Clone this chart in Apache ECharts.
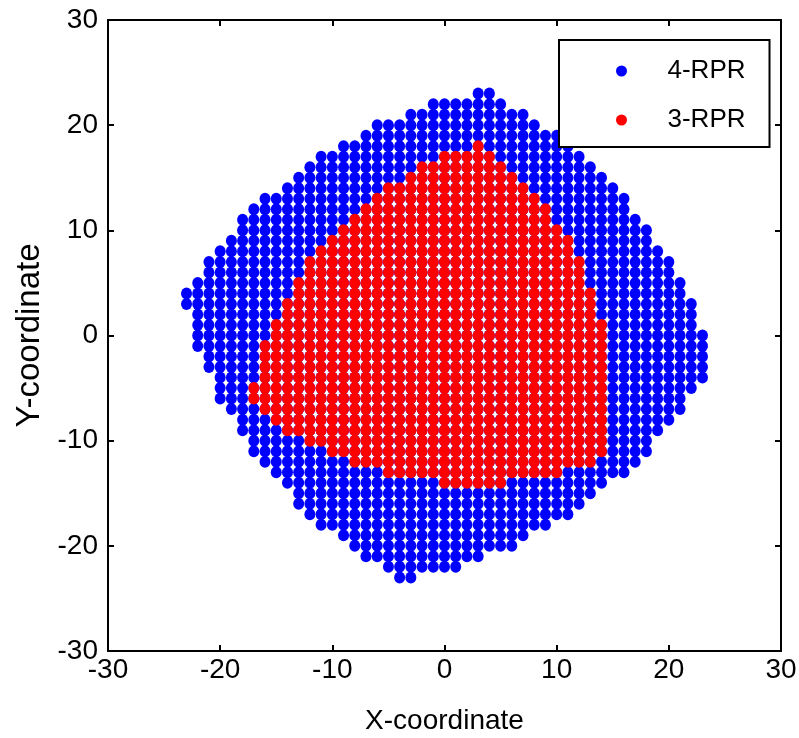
<!DOCTYPE html>
<html lang="en">
<head>
    <meta charset="UTF-8">
    <script src="https://cdn.jsdelivr.net/npm/echarts@6/dist/echarts.min.js"></script>
    <title>Workspace</title>
    <style>
        html, body {
            margin: 0;
            padding: 0;
            width: 100%;
            height: 100%;
            overflow: hidden;
            background: #fff;
        }
        #chart {
            width: 799px;
            height: 738px;
        }
    </style>
</head>
<body>
<div id="chart"></div>
<script>
    // one entry per grid column x = -23 .. 23
    var columnX = [-23, -22, -21, -20, -19, -18, -17, -16, -15, -14, -13, -12, -11, -10, -9, -8, -7, -6, -5, -4, -3, -2, -1,
        0, 1, 2, 3, 4, 5, 6, 7, 8, 9, 10, 11, 12, 13, 14, 15, 16, 17, 18, 19, 20, 21, 22, 23];
    // 4-RPR reachable points: lowest / highest y in each column
    var rpr4Low = [3, -1, -3, -6, -7, -9, -11, -12, -13, -14, -16, -17, -18, -18, -19, -20, -21, -21, -22, -23, -23, -22, -22,
        -22, -22, -21, -21, -20, -20, -20, -19, -18, -18, -17, -17, -16, -15, -14, -13, -13, -12, -11, -9, -8, -7, -5, -4];
    var rpr4High = [4, 5, 7, 8, 9, 11, 12, 13, 13, 14, 15, 16, 17, 17, 18, 18, 19, 20, 20, 20, 21, 21, 22,
        22, 22, 22, 23, 23, 22, 21, 21, 20, 19, 19, 18, 17, 16, 15, 14, 13, 11, 10, 8, 7, 5, 3, 0];
    // 3-RPR reachable points (null = column empty)
    var rpr3Low = [null, null, null, null, null, null, -6, -7, -8, -9, -9, -10, -10, -11, -11, -12, -12, -12, -13, -13, -13, -13, -13,
        -14, -14, -14, -14, -14, -14, -13, -13, -13, -13, -13, -12, -12, -12, -11, null, null, null, null, null, null, null, null, null];
    var rpr3High = [null, null, null, null, null, null, -5, -1, 1, 3, 5, 7, 8, 9, 10, 11, 12, 13, 14, 14, 15, 16, 16,
        17, 17, 17, 18, 17, 16, 15, 14, 13, 12, 10, 9, 7, 4, 1, null, null, null, null, null, null, null, null, null];

    var axisTicks = [-30, -20, -10, 0, 10, 20, 30];

    function columnsToPoints(low, high) {
        var pts = [];
        for (var i = 0; i < columnX.length; i++) {
            if (low[i] === null) continue;
            for (var y = low[i]; y <= high[i]; y++) {
                pts.push([columnX[i], y]);
            }
        }
        return pts;
    }

    var font = '"Liberation Sans", Arial, sans-serif';
    var chart = echarts.init(document.getElementById('chart'), null, {renderer: 'canvas'});

    function valueAxis(pos, showLabel, name) {
        return {
            type: 'value',
            position: pos,
            min: axisTicks[0],
            max: axisTicks[axisTicks.length - 1],
            interval: 10,
            name: name || '',
            nameLocation: 'middle',
            nameGap: (pos === 'bottom') ? 56 : 62,
            nameTextStyle: {color: '#000', fontFamily: font, fontSize: (pos === 'bottom') ? 28 : 33},
            axisLine: {show: true, onZero: false, lineStyle: {color: '#000', width: 2}},
            axisTick: {show: true, inside: true, length: 6, lineStyle: {color: '#000', width: 2}},
            axisLabel: {
                show: showLabel,
                color: '#000',
                fontFamily: font,
                fontSize: 28,
                margin: (pos === 'bottom') ? 5 : 10
            },
            splitLine: {show: false}
        };
    }

    var option = {
        animation: false,
        backgroundColor: '#fff',
        grid: {left: 108, right: 18, top: 20, bottom: 87, containLabel: false, outerBoundsMode: 'none'},
        xAxis: [valueAxis('bottom', true, 'X-coordinate'), valueAxis('top', false)],
        yAxis: [valueAxis('left', true, 'Y-coordinate'), valueAxis('right', false)],
        legend: {
            orient: 'vertical',
            left: 559,
            top: 40,
            padding: [18, 24, 14, 57],
            itemWidth: 82,
            itemHeight: 11,
            itemGap: 23,
            backgroundColor: '#fff',
            borderColor: '#000',
            borderWidth: 2,
            borderRadius: 0,
            textStyle: {color: '#000', fontFamily: font, fontSize: 26, lineHeight: 26},
            data: [
                {name: '4-RPR', icon: 'circle'},
                {name: '3-RPR', icon: 'circle'}
            ]
        },
        series: [
            {
                name: '4-RPR',
                type: 'scatter',
                symbol: 'circle',
                symbolSize: [11, 12],
                itemStyle: {color: '#0000ff', opacity: 1},
                data: columnsToPoints(rpr4Low, rpr4High)
            },
            {
                name: '3-RPR',
                type: 'scatter',
                symbol: 'circle',
                symbolSize: [11, 12],
                itemStyle: {color: '#ff0000', opacity: 1},
                data: columnsToPoints(rpr3Low, rpr3High)
            }
        ]
    };
    chart.setOption(option);
</script>
</body>
</html>
